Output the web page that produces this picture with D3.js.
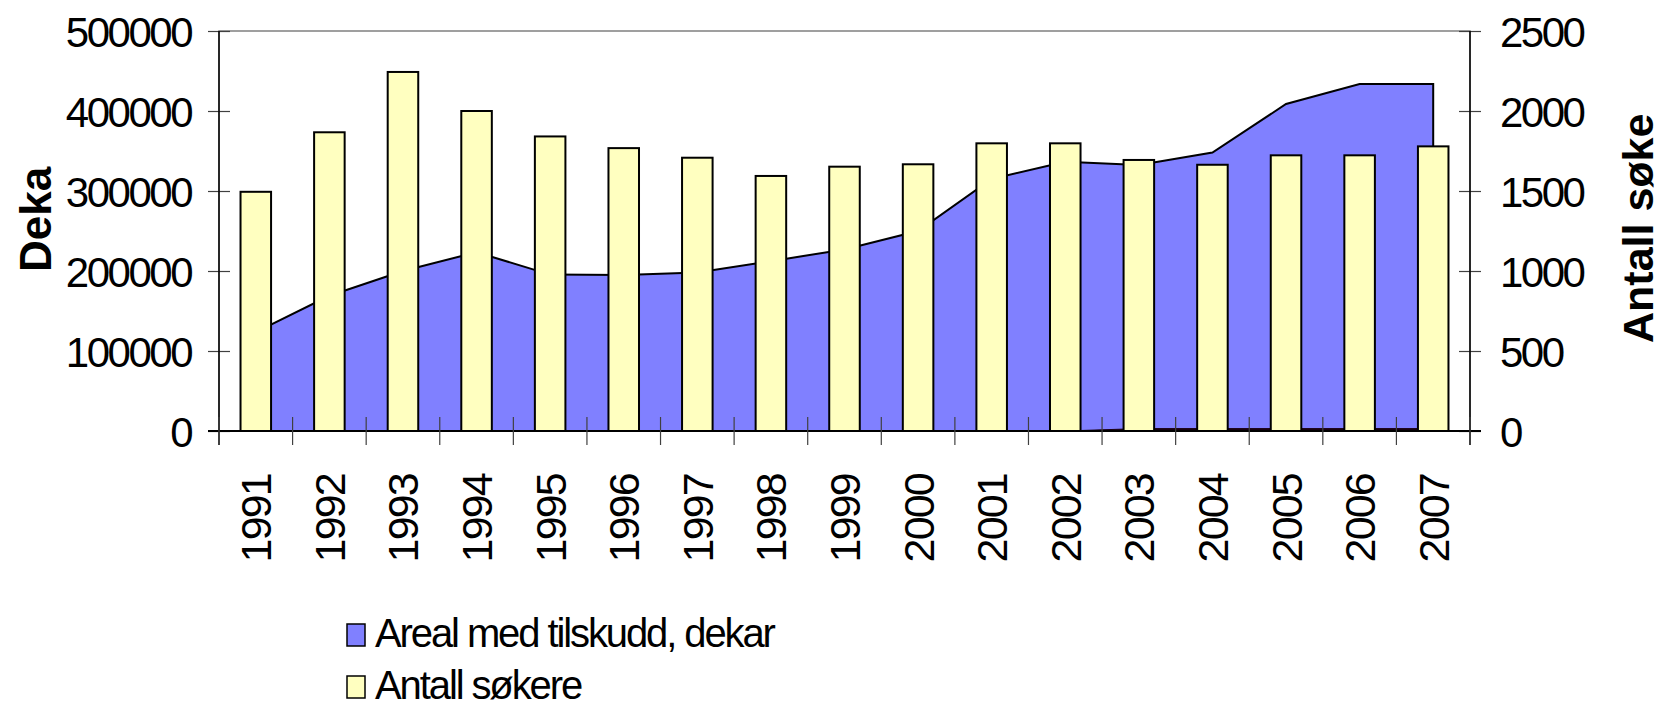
<!DOCTYPE html>
<html>
<head>
<meta charset="utf-8">
<script src="https://cdn.jsdelivr.net/npm/d3@7"></script>
<style>
  html, body { margin: 0; padding: 0; background: #fff; }
  svg { display: block; font-family: "Liberation Sans", Arial, sans-serif; }
</style>
</head>
<body>
<script>
// ---- data ----
const years = ["1991","1992","1993","1994","1995","1996","1997","1998","1999","2000","2001","2002","2003","2004","2005","2006","2007"];
const arealDekar = [123500, 169000, 200000, 223500, 195500, 195000, 198000, 212300, 227000, 250000, 315000, 336500, 332600, 348000, 408700, 433700, 433700];
const antallSokere = [1495, 1867, 2244, 2000, 1841, 1768, 1708, 1594, 1652, 1667, 1798, 1798, 1694, 1664, 1723, 1723, 1779];
const ekstraSerie = [0, 0, 0, 0, 0, 0, 0, 0, 0, 0, 0, 0, 3000, 3000, 3000, 3000, 3000];
const leftTicks = [0, 100000, 200000, 300000, 400000, 500000];
const rightTicks = [0, 500, 1000, 1500, 2000, 2500];
const legendLabels = ["Areal med tilskudd, dekar", "Antall søkere"];
const leftTitle = "Dekar";
const rightTitle = "Antall søkere";

// ---- layout ----
const W = 1659, H = 702;
const m = { left: 219, right: 1470, top: 31, bottom: 431 };
const FONT = '"Liberation Sans", Arial, sans-serif';

const svg = d3.select("body").append("svg").attr("width", W).attr("height", H);

const x = d3.scaleBand().domain(years).range([m.left, m.right]).padding(0);
const yL = d3.scaleLinear().domain([0, 500000]).range([m.bottom, m.top]);
const yR = d3.scaleLinear().domain([0, 2500]).range([m.bottom, m.top]);
const cx = d => x(d) + x.bandwidth() / 2;

// plot area border (grey)
svg.append("rect")
  .attr("x", m.left).attr("y", m.top)
  .attr("width", m.right - m.left).attr("height", m.bottom - m.top)
  .attr("fill", "none").attr("stroke", "#808080").attr("stroke-width", 1.5);

// area series
const areaL = d3.area()
  .x(d => cx(d.year))
  .y0(yL(0))
  .y1(d => yL(d.v));

svg.append("path")
  .datum(years.map((y, i) => ({ year: y, v: arealDekar[i] })))
  .attr("d", areaL)
  .attr("fill", "#8080ff")
  .attr("stroke", "#000").attr("stroke-width", 2).attr("stroke-linejoin", "miter");

svg.append("path")
  .datum(years.map((y, i) => ({ year: y, v: ekstraSerie[i] })))
  .attr("d", areaL)
  .attr("fill", "#1a0014")
  .attr("stroke", "#1a0014").attr("stroke-width", 1);

// bars
const bw = x.bandwidth() * 0.415;
svg.selectAll("rect.bar")
  .data(years.map((y, i) => ({ year: y, v: antallSokere[i] })))
  .join("rect")
  .attr("class", "bar")
  .attr("x", d => cx(d.year) - bw / 2)
  .attr("y", d => yR(d.v))
  .attr("width", bw)
  .attr("height", d => yR(0) - yR(d.v))
  .attr("fill", "#ffffc0")
  .attr("stroke", "#000").attr("stroke-width", 2);

// left axis
const gL = svg.append("g").attr("transform", `translate(${m.left},0)`)
  .call(d3.axisLeft(yL).tickValues(leftTicks).tickFormat(d3.format("d")).tickSize(11).tickPadding(17));
gL.select(".domain").remove();
gL.selectAll(".tick line").attr("x1", 11).attr("stroke", "#404040").attr("stroke-width", 1.2);
gL.selectAll(".tick text")
  .attr("font-family", FONT).attr("font-size", 42).attr("letter-spacing", "-2.5px")
  .attr("fill", "#000").attr("dy", "0.36em");

// right axis
const gR = svg.append("g").attr("transform", `translate(${m.right},0)`)
  .call(d3.axisRight(yR).tickValues(rightTicks).tickFormat(d3.format("d")).tickSize(11).tickPadding(19));
gR.select(".domain").remove();
gR.selectAll(".tick line").attr("x1", -11).attr("stroke", "#404040").attr("stroke-width", 1.2);
gR.selectAll(".tick text")
  .attr("font-family", FONT).attr("font-size", 42).attr("letter-spacing", "-2.5px")
  .attr("fill", "#000").attr("dy", "0.36em");

// axis lines
svg.append("line").attr("x1", m.left).attr("x2", m.left).attr("y1", m.top).attr("y2", 445)
  .attr("stroke", "#000").attr("stroke-width", 1.5);
svg.append("line").attr("x1", m.right).attr("x2", m.right).attr("y1", m.top).attr("y2", 445)
  .attr("stroke", "#000").attr("stroke-width", 1.5);
svg.append("line").attr("x1", 208).attr("x2", 1481).attr("y1", m.bottom).attr("y2", m.bottom)
  .attr("stroke", "#000").attr("stroke-width", 2);

// category boundary ticks
const bounds = years.map(d => x(d)).concat([m.right]);
svg.selectAll("line.ctick").data(bounds).join("line")
  .attr("class", "ctick")
  .attr("x1", d => d).attr("x2", d => d)
  .attr("y1", 417).attr("y2", 445)
  .attr("stroke", "#404040").attr("stroke-width", 1.2);

// year labels
svg.selectAll("text.year").data(years).join("text")
  .attr("class", "year")
  .attr("transform", d => `translate(${cx(d)},474) rotate(-90)`)
  .attr("text-anchor", "end")
  .attr("dy", "0.36em")
  .attr("font-family", FONT).attr("font-size", 43).attr("letter-spacing", "-1.8px")
  .attr("fill", "#000")
  .text(d => d);

// axis titles (clipped like the original)
function clippedTitle(id, tx, ty, label, size, clipAt) {
  const g = svg.append("g").attr("transform", `translate(${tx},${ty}) rotate(-90)`);
  const t = g.append("text")
    .attr("x", 0).attr("y", 0)
    .attr("font-family", FONT).attr("font-weight", "bold").attr("font-size", size)
    .attr("fill", "#000")
    .text(label);
  const cut = t.node().getStartPositionOfChar(clipAt).x + 1.5;
  const cp = svg.append("clipPath").attr("id", id);
  cp.append("rect").attr("x", -20).attr("y", -80).attr("width", cut + 20).attr("height", 120);
  t.attr("clip-path", `url(#${id})`);
}
clippedTitle("clipL", 51, 272, leftTitle, 44, 4);
clippedTitle("clipR", 1653, 343, rightTitle, 43, 11);

// legend
const legendColors = ["#8080ff", "#ffffc0"];
const lg = svg.append("g");
legendLabels.forEach((lab, i) => {
  const yTop = 624 + i * 52;
  lg.append("rect").attr("x", 347).attr("y", yTop).attr("width", 18).attr("height", 22)
    .attr("fill", legendColors[i]).attr("stroke", "#000").attr("stroke-width", 1.5);
  lg.append("text").attr("x", 375).attr("y", yTop + 23)
    .attr("font-family", FONT).attr("font-size", 40).attr("letter-spacing", "-2.1px")
    .attr("fill", "#000").text(lab);
});
</script>
</body>
</html>
